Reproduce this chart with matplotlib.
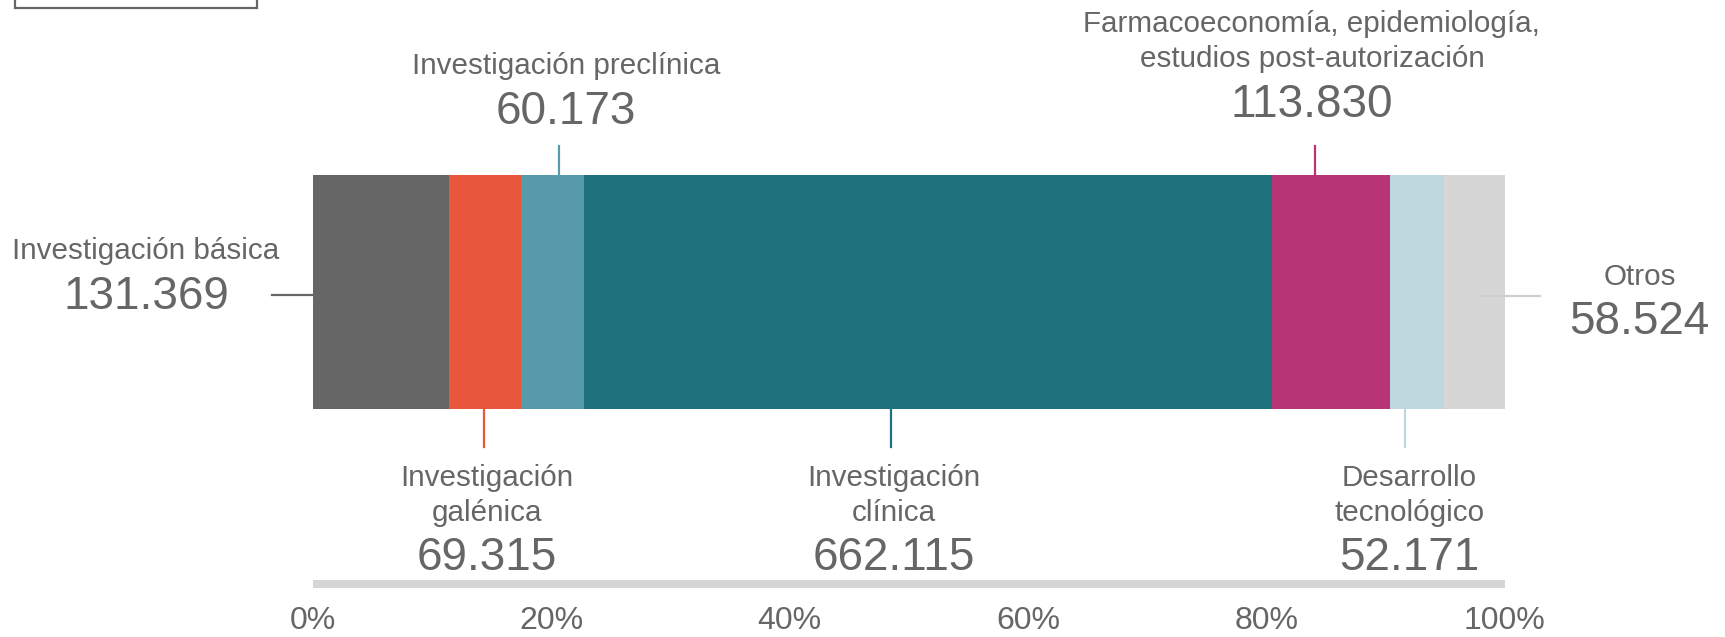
import matplotlib
matplotlib.use("Agg")
import matplotlib.pyplot as plt
from matplotlib.patches import Rectangle
import numpy as np

plt.rcParams['font.family'] = ['Liberation Sans', 'DejaVu Sans']

categories = ["Investigación básica", "Investigación galénica", "Investigación preclínica",
              "Investigación clínica", "Farmacoeconomía, epidemiología, estudios post-autorización",
              "Desarrollo tecnológico", "Otros"]
values = [131369, 69315, 60173, 662115, 113830, 52171, 58524]
value_labels = ["131.369", "69.315", "60.173", "662.115", "113.830", "52.171", "58.524"]
label_lines = [["Investigación básica"], ["Investigación", "galénica"], ["Investigación preclínica"],
               ["Investigación", "clínica"], ["Farmacoeconomía, epidemiología,", "estudios post-autorización"],
               ["Desarrollo", "tecnológico"], ["Otros"]]
colors = ["#666666", "#e8573c", "#579bab", "#1e717d", "#b73576", "#bdd8de", "#d6d6d6"]
ticks = [0, 0.2, 0.4, 0.6, 0.8, 1.0]
tick_labels = ["0%", "20%", "40%", "60%", "80%", "100%"]

W, H = 1725, 637
fig = plt.figure(figsize=(W / 100, H / 100), dpi=100)
ax = fig.add_axes([313 / W, 0, 1192 / W, 1])
ax.set_xlim(0, 1)
ax.set_ylim(H, 0)
ax.axis('off')

total = sum(values)
fracs = np.array(values) / total
lefts = np.concatenate([[0], np.cumsum(fracs)[:-1]])

bar_y, bar_h = 292, 234
ax.barh(bar_y, fracs, left=lefts, height=bar_h, color=colors, edgecolor='none')

# bottom band
ax.barh(584, 1.0, left=0, height=8, color="#d6d6d6", edgecolor='none')

txt = "#666666"
LBL, NUM, TCK = 21.3, 33, 23

# basic (left, horizontal)
ax.plot([-0.034, 0], [295, 295], color=colors[0], lw=1.6, clip_on=False)
ax.text(-0.140, 251, label_lines[0][0], ha='center', va='center', fontsize=LBL, color=txt)
ax.text(-0.140, 297, value_labels[0], ha='center', va='center', fontsize=NUM, color=txt)

# top labels: preclínica, farmaco
top = [(2, 0.2064, 0.2122), (4, 0.8406, 0.838)]
for i, lx, tx in top:
    ax.plot([lx, lx], [146, 175], color=colors[i], lw=1.6, clip_on=False)
    lines = label_lines[i]
    if len(lines) == 1:
        ax.text(tx, 66, lines[0], ha='center', va='center', fontsize=LBL, color=txt)
        ax.text(tx, 112, value_labels[i], ha='center', va='center', fontsize=NUM, color=txt)
    else:
        ax.text(tx, 24, lines[0], ha='center', va='center', fontsize=LBL, color=txt)
        ax.text(tx, 59, lines[1], ha='center', va='center', fontsize=LBL, color=txt)
        ax.text(tx, 105, value_labels[i], ha='center', va='center', fontsize=NUM, color=txt)

# bottom labels
bottom = [(1, 0.1434, 0.146), (3, 0.485, 0.487), (5, 0.9161, 0.920)]
for i, lx, tx in bottom:
    ax.plot([lx, lx], [409, 447], color=colors[i], lw=1.6, clip_on=False)
    ax.text(tx, 478, label_lines[i][0], ha='center', va='center', fontsize=LBL, color=txt)
    ax.text(tx, 513, label_lines[i][1], ha='center', va='center', fontsize=LBL, color=txt)
    ax.text(tx, 558, value_labels[i], ha='center', va='center', fontsize=NUM, color=txt)

# otros (right, horizontal)
ax.plot([0.979, 1.029], [296, 296], color="#cfcfcf", lw=1.6, clip_on=False, zorder=3)
ax.text(1.113, 277, label_lines[6][0], ha='center', va='center', fontsize=LBL, color=txt)
ax.text(1.113, 322, value_labels[6], ha='center', va='center', fontsize=NUM, color=txt)

# tick labels
for t, tl in zip(ticks, tick_labels):
    ax.text(t, 629, tl, ha='center', va='baseline', fontsize=TCK, color=txt)

# top-left box (partially cut off)
fig.patches.append(Rectangle((15 / W, 1 - 8 / H), 242 / W, 0.1, transform=fig.transFigure,
                             facecolor='white', edgecolor='#666666', lw=1.6))

fig.savefig("out.png", dpi=100)
